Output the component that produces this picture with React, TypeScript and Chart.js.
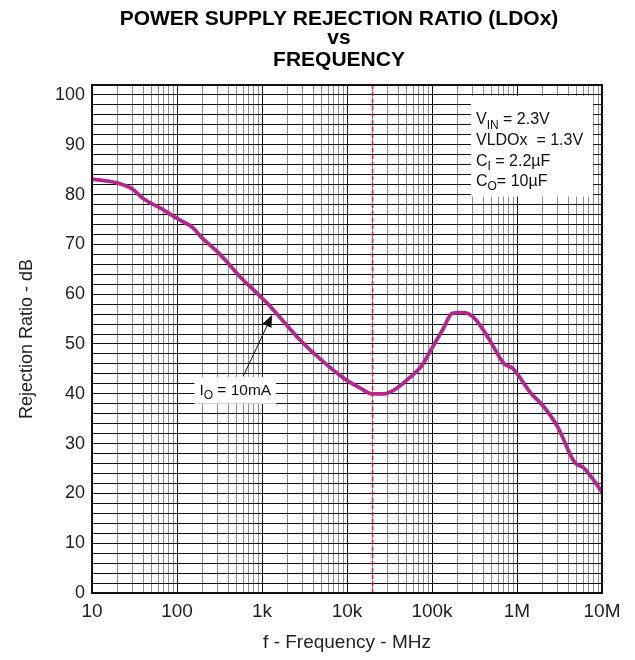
import React, { useEffect, useRef } from "react";
import { Chart, registerables } from "chart.js";

Chart.register(...registerables);

const FONT = "'Liberation Sans', Arial, Helvetica, sans-serif";

const titleLines = ["POWER SUPPLY REJECTION RATIO (LDOx)", "vs", "FREQUENCY"];
const xTitle = "f - Frequency - MHz";
const yTitle = "Rejection Ratio - dB";

// Curve: frequency (Hz) and rejection ratio (dB)
const frequencies = [
  10, 20, 30, 40, 70, 100, 150, 200, 300, 400, 550, 800, 1150, 1650, 2800, 5300, 9200,
  14500, 19500, 27000, 36000, 51000, 77000, 97000, 133000, 175000, 240000, 315000,
  450000, 700000, 890000, 1460000, 2000000, 3000000, 4700000, 6200000, 10000000,
];
const rejectionDb = [
  83.1, 82.3, 81.1, 79.2, 76.9, 75.2, 73.5, 71.2, 68.5, 66.2, 63.5, 60.8, 58.2, 55.2, 50.8, 46.4, 43.1,
  41.1, 40.0, 40.0, 40.8, 42.8, 45.8, 48.8, 52.8, 56.2, 56.3, 55.2,
  51.5, 46.1, 45.1, 40.1, 37.7, 33.4, 26.4, 25.0, 20.3,
];

const markerFrequency = 20000;

const xDecades = [10, 100, 1000, 10000, 100000, 1000000, 10000000];
const xTickLabels = ["10", "100", "1k", "10k", "100k", "1M", "10M"];
const xMinorMultipliers = [1, 2, 3, 4, 5, 6, 7, 8, 9];

const yMin = 0;
const yMax = 102;
const yGridStep = 2;
const yLabelStep = 10;
const yLabelMax = 100;

type Seg = { t: string; sub?: boolean };
const conditionLines: Seg[][] = [
  [{ t: "V" }, { t: "IN", sub: true }, { t: " = 2.3V" }],
  [{ t: "VLDOx  = 1.3V" }],
  [{ t: "C" }, { t: "I", sub: true }, { t: " = 2.2\u00b5F" }],
  [{ t: "C" }, { t: "O", sub: true }, { t: "= 10\u00b5F" }],
];
const conditionLineDb = [94.2, 90.0, 85.8, 81.8];
const conditionBox = { f0: 287000, f1: 7870000, dbTop: 99.8, dbBottom: 79.6, fText: 329000 };

const currentLabel: Seg[] = [{ t: "I" }, { t: "O", sub: true }, { t: " = 10mA" }];
const currentLabelAt = { f: 485, db: 40.8 };
const arrowTail = { f: 604, db: 43.6 };
const arrowTip = { f: 1315, db: 55.8 };

const xGridValues: number[] = [];
xDecades.forEach((d) => {
  xMinorMultipliers.forEach((m) => {
    const v = d * m;
    if (v <= xDecades[xDecades.length - 1]) xGridValues.push(v);
  });
});
const yGridValues: number[] = [];
for (let v = yMin; v <= yMax; v += yGridStep) yGridValues.push(v);

function drawRich(ctx: CanvasRenderingContext2D, segs: Seg[], x: number, y: number, size: number, measureOnly = false) {
  let cx = x;
  for (const s of segs) {
    if (s.sub) {
      ctx.font = `${Math.round(size * 0.78)}px ${FONT}`;
      if (!measureOnly) ctx.fillText(s.t, cx, y + size * 0.3);
    } else {
      ctx.font = `${size}px ${FONT}`;
      if (!measureOnly) ctx.fillText(s.t, cx, y);
    }
    cx += ctx.measureText(s.t).width;
  }
  return cx - x;
}

const COND_SIZE = 16;
const LABEL_SIZE = 15.5;

const decorPlugin = {
  id: "decor",
  beforeDatasetsDraw(chart: any) {
    const { ctx, scales } = chart;
    const xs = scales.x;
    const ys = scales.y;
    ctx.save();
    const bx0 = xs.getPixelForValue(conditionBox.f0);
    const bx1 = xs.getPixelForValue(conditionBox.f1);
    const by0 = ys.getPixelForValue(conditionBox.dbTop);
    const by1 = ys.getPixelForValue(conditionBox.dbBottom);
    ctx.fillStyle = "#ffffff";
    ctx.fillRect(bx0, by0, bx1 - bx0, by1 - by0);
    const w = drawRich(ctx, currentLabel, 0, 0, LABEL_SIZE, true);
    const cx = xs.getPixelForValue(currentLabelAt.f);
    const cy = ys.getPixelForValue(currentLabelAt.db);
    ctx.fillStyle = "#ffffff";
    ctx.fillRect(cx - w / 2 - 5, cy - 13, w + 10, 27);
    ctx.restore();
  },
  afterDatasetsDraw(chart: any) {
    const { ctx, scales, chartArea: ca } = chart;
    const xs = scales.x;
    const ys = scales.y;
    ctx.save();
    ctx.fillStyle = "#111";
    ctx.textBaseline = "alphabetic";
    ctx.textAlign = "left";
    const tx = xs.getPixelForValue(conditionBox.fText);
    conditionLines.forEach((line, i) => {
      const ty = ys.getPixelForValue(conditionLineDb[i]);
      drawRich(ctx, line, tx, ty, COND_SIZE);
    });
    const w = drawRich(ctx, currentLabel, 0, 0, LABEL_SIZE, true);
    const cx = xs.getPixelForValue(currentLabelAt.f);
    const cy = ys.getPixelForValue(currentLabelAt.db);
    ctx.fillStyle = "#111";
    drawRich(ctx, currentLabel, cx - w / 2, cy + 5, LABEL_SIZE);
    const ax0 = xs.getPixelForValue(arrowTail.f);
    const ay0 = ys.getPixelForValue(arrowTail.db);
    const ax1 = xs.getPixelForValue(arrowTip.f);
    const ay1 = ys.getPixelForValue(arrowTip.db);
    const ang = Math.atan2(ay1 - ay0, ax1 - ax0);
    const hl = 12;
    const hw = 5;
    ctx.strokeStyle = "#111";
    ctx.lineWidth = 1;
    ctx.beginPath();
    ctx.moveTo(ax0, ay0);
    ctx.lineTo(ax1 - Math.cos(ang) * hl, ay1 - Math.sin(ang) * hl);
    ctx.stroke();
    ctx.beginPath();
    ctx.moveTo(ax1, ay1);
    ctx.lineTo(ax1 - Math.cos(ang) * hl - Math.sin(ang) * hw, ay1 - Math.sin(ang) * hl + Math.cos(ang) * hw);
    ctx.lineTo(ax1 - Math.cos(ang) * hl + Math.sin(ang) * hw, ay1 - Math.sin(ang) * hl - Math.cos(ang) * hw);
    ctx.closePath();
    ctx.fill();
    ctx.strokeStyle = "#111";
    ctx.lineWidth = 2;
    ctx.strokeRect(ca.left, ca.top, ca.right - ca.left, ca.bottom - ca.top);
    ctx.restore();
  },
  afterDraw(chart: any) {
    const { ctx, chartArea: ca } = chart;
    ctx.save();
    ctx.fillStyle = "#000";
    ctx.textAlign = "center";
    ctx.textBaseline = "alphabetic";
    ctx.font = `bold 21px ${FONT}`;
    const cx = (ca.left + ca.right) / 2 - 8;
    const baselines = [25, 44, 66];
    titleLines.forEach((t, i) => ctx.fillText(t, cx, baselines[i]));
    ctx.restore();
  },
};

export default function App() {
  const ref = useRef<HTMLCanvasElement | null>(null);
  useEffect(() => {
    if (!ref.current) return;
    const chart = new Chart(ref.current, {
      type: "line",
      data: {
        datasets: [
          {
            data: [
              { x: markerFrequency, y: yMin },
              { x: markerFrequency, y: yMax },
            ],
            borderColor: "#e8262c",
            borderWidth: 1.6,
            borderDash: [4, 3],
            pointRadius: 0,
            fill: false,
          },
          {
            data: frequencies.map((f, i) => ({ x: f, y: rejectionDb[i] })),
            borderColor: "#b3278f",
            borderWidth: 3.8,
            pointRadius: 0,
            cubicInterpolationMode: "monotone",
            fill: false,
          },
        ],
      },
      options: {
        responsive: false,
        animation: false,
        devicePixelRatio: 1,
        layout: { padding: { top: 85, right: 33, left: 0, bottom: 0 } },
        plugins: {
          legend: { display: false },
          tooltip: { enabled: false },
          title: { display: false },
        },
        scales: {
          x: {
            type: "logarithmic",
            min: xDecades[0],
            max: xDecades[xDecades.length - 1],
            afterBuildTicks: (s: any) => {
              s.ticks = xGridValues.map((v) => ({ value: v }));
            },
            afterFit: (s: any) => {
              s.height = 67;
            },
            grid: {
              drawTicks: false,
              color: (c: any) => {
                const v = c.tick ? c.tick.value : 0;
                return xDecades.indexOf(v) >= 0 ? "#111" : "#8c8c8c";
              },
              lineWidth: 1,
            },
            border: { display: true, color: "#111", width: 2 },
            ticks: {
              autoSkip: false,
              maxRotation: 0,
              padding: 7,
              color: "#222",
              font: { family: FONT, size: 19 },
              callback: (v: any) => {
                const i = xDecades.indexOf(Number(v));
                return i >= 0 ? xTickLabels[i] : "";
              },
            },
            title: {
              display: true,
              text: xTitle,
              color: "#222",
              font: { family: FONT, size: 19 },
              padding: { top: 4, bottom: 6 },
            },
          },
          y: {
            type: "linear",
            min: yMin,
            max: yMax,
            afterBuildTicks: (s: any) => {
              s.ticks = yGridValues.map((v) => ({ value: v }));
            },
            afterFit: (s: any) => {
              s.width = 92;
            },
            grid: { drawTicks: false, color: "#111", lineWidth: 1 },
            border: { display: true, color: "#111", width: 2 },
            ticks: {
              autoSkip: false,
              padding: 7,
              color: "#222",
              font: { family: FONT, size: 18 },
              callback: (v: any) =>
                Number(v) % yLabelStep === 0 && Number(v) <= yLabelMax ? String(v) : "",
            },
            title: {
              display: true,
              text: yTitle,
              color: "#222",
              font: { family: FONT, size: 18 },
              padding: { top: 16, bottom: 0 },
            },
          },
        },
      },
      plugins: [decorPlugin],
    } as any);
    return () => chart.destroy();
  }, []);
  return (
    <div style={{ position: "absolute", left: 0, top: 0, width: 635, height: 660, background: "#fff" }}>
      <canvas ref={ref} width={635} height={660} />
    </div>
  );
}
